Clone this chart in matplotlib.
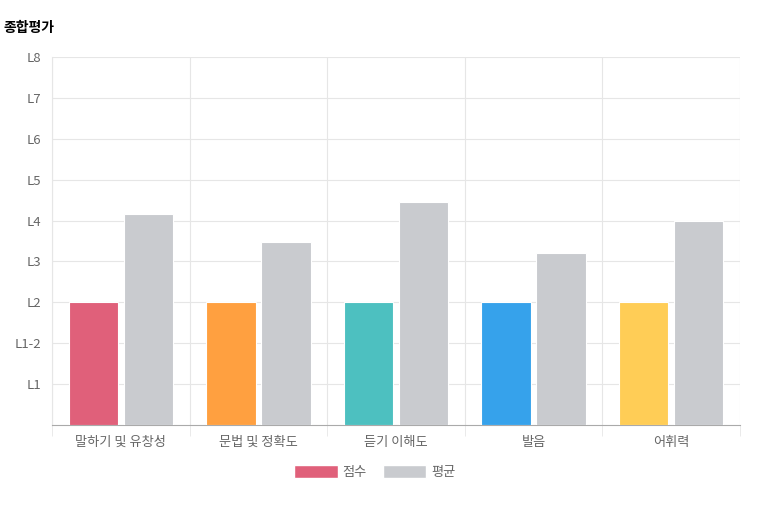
import matplotlib
matplotlib.use("Agg")
import matplotlib.pyplot as plt
from matplotlib.patches import Patch
import numpy as np

plt.rcParams['font.family'] = ['Noto Sans CJK KR', 'DejaVu Sans']

categories = ["말하기 및 유창성", "문법 및 정확도", "듣기 이해도", "발음", "어휘력"]
scores = [3, 3, 3, 3, 3]
averages = [5.17, 4.47, 5.46, 4.2, 4.98]
level_labels = ["L1", "L1-2", "L2", "L3", "L4", "L5", "L6", "L7", "L8"]
score_colors = ["#e0607a", "#ffa040", "#4dc0c0", "#36a2eb", "#ffcd56"]
avg_color = "#c9cbcf"

fig = plt.figure(figsize=(7.64, 5.18), dpi=100)
ax = fig.add_axes([52/764, 1-425/518, (740-52)/764, (425-57)/518])
x = np.arange(len(categories))
w = 0.36
ax.bar(x - w/2 - 0.02, scores, w, color=score_colors, edgecolor="white", linewidth=0.8, zorder=3)
ax.bar(x + w/2 + 0.02, averages, w, color=avg_color, edgecolor="white", linewidth=0.8, zorder=3)
ax.set_xlim(-0.5, len(categories) - 0.5)
ax.set_ylim(0, 9)
ax.set_yticks(range(1, 10))
ax.set_yticklabels(level_labels)
ax.set_xticks(x)
ax.set_xticklabels(categories)
ax.set_xticks(np.arange(-0.5, len(categories)), minor=True)
ax.grid(axis='y', color="#e6e6e6", linewidth=0.8, zorder=0)
ax.grid(axis='x', which='minor', color="#e6e6e6", linewidth=0.8, zorder=0)
ax.tick_params(axis='both', which='both', length=0, colors="#666666", labelsize=9.5, pad=8)
ax.tick_params(axis='x', which='minor', length=8, color="#e6e6e6")
for s in ["top", "right"]:
    ax.spines[s].set_visible(False)
ax.spines["left"].set_color("#e6e6e6")
ax.spines["bottom"].set_color("#aaaaaa")

fig.text(3/764, 1-28/518, "종합평가", fontsize=10, fontweight="bold", va="center", ha="left")
handles = [Patch(facecolor=score_colors[0], edgecolor="white"), Patch(facecolor=avg_color, edgecolor="white")]
fig.legend(handles, ["점수", "평균"], loc="center", bbox_to_anchor=(375/764, 1-472/518), ncol=2,
           frameon=False, handlelength=3.3, handleheight=1.1, fontsize=9.5, labelcolor="#666666",
           columnspacing=1.2, handletextpad=0.4)
fig.savefig("out.png", dpi=100)
